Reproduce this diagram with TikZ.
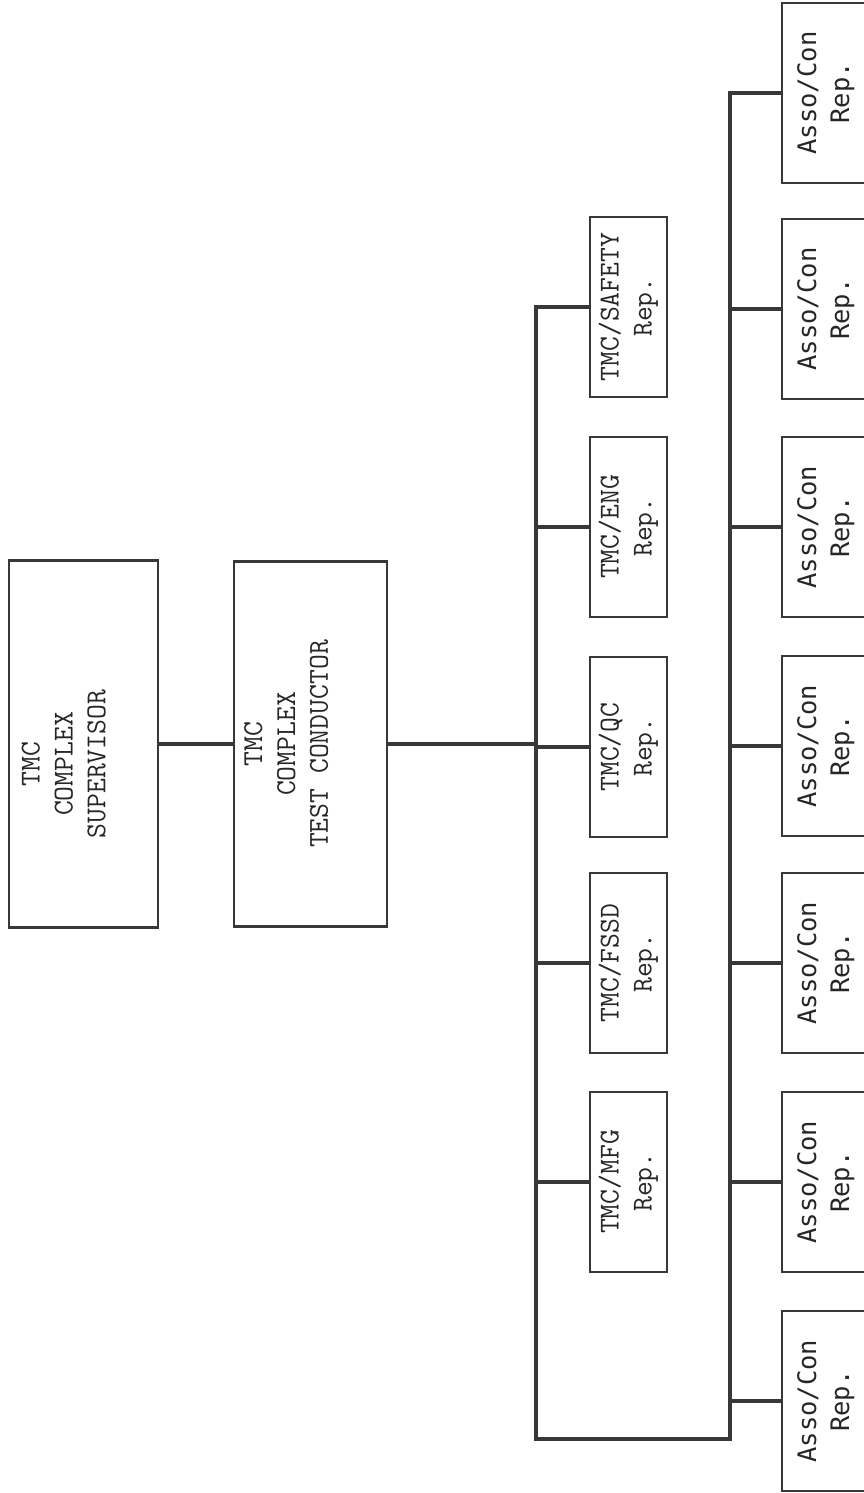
\documentclass[tikz,border=0pt]{standalone}
\usepackage{graphicx}
\usepackage{fontspec}
\newfontfamily\assofont{DejaVu Sans Mono}

\tikzset{
  box/.style={draw=black!78, line width=1.4pt, inner sep=0pt, text=black!85,
    font=\ttfamily\fontsize{16.4}{18.7}\selectfont},
  rep/.style={box, minimum width=1.54cm, minimum height=3.6cm},
  asso/.style={box, minimum width=1.76cm, minimum height=3.6cm,
    font=\assofont\fontsize{14.5}{18.7}\selectfont},
  link/.style={draw=black!78, line width=2.4pt},
}
% rotated text, read from bottom to top
\newcommand{\vtext}[1]{\rotatebox{90}{\begin{tabular}{@{}c@{}}#1\end{tabular}}}

\begin{document}
\begin{tikzpicture}[x=0.02cm, y=-0.02cm]
  \useasboundingbox (0,0) rectangle (863,1493);

  \node[box, minimum width=2.98cm, minimum height=7.34cm] (sup) at (83.5,744)
    {\rotatebox{90}{\begin{tabular}{@{}c@{}}TMC\\COMPLEX\\SUPERVISOR\end{tabular}\hspace*{0.8cm}}\hspace*{0.7cm}};
  \node[box, minimum width=3.06cm, minimum height=7.30cm] (cond) at (310.5,744)
    {\vtext{TMC\\COMPLEX\\TEST CONDUCTOR}\hspace*{0.88cm}};

  % TMC reps
  \node[rep] (safety) at (628.5,307)  {\vtext{TMC/SAFETY\\Rep.}};
  \node[rep] (eng)    at (628.5,527)  {\vtext{TMC/ENG\\Rep.}};
  \node[rep] (qc)     at (628.5,747)  {\vtext{TMC/QC\\Rep.}};
  \node[rep] (fssd)   at (628.5,963)  {\vtext{TMC/FSSD\\Rep.}};
  \node[rep] (mfg)    at (628.5,1182) {\vtext{TMC/MFG\\Rep.}};

  % Asso/Con reps
  \foreach \i/\y in {1/93, 2/309, 3/527, 4/746, 5/963, 6/1182, 7/1401}
    \node[asso] (asso\i) at (826,\y) {\vtext{Asso/Con\\Rep.}};

  \coordinate (busl) at (536,1439);
  \coordinate (busr) at (730,1439);

  \draw[link] (sup) -- (cond);
  \draw[link] (cond.east) -- (cond.east -| busl);
  \draw[link] (safety.west) -| (busl) -- (busr) |- (asso1.west);
  \foreach \n in {eng,qc,fssd,mfg}
    \draw[link] (\n.west) -- (\n.west -| busl);
  \foreach \i in {2,...,7}
    \draw[link] (asso\i.west) -- (asso\i.west -| busr);
\end{tikzpicture}
\end{document}
